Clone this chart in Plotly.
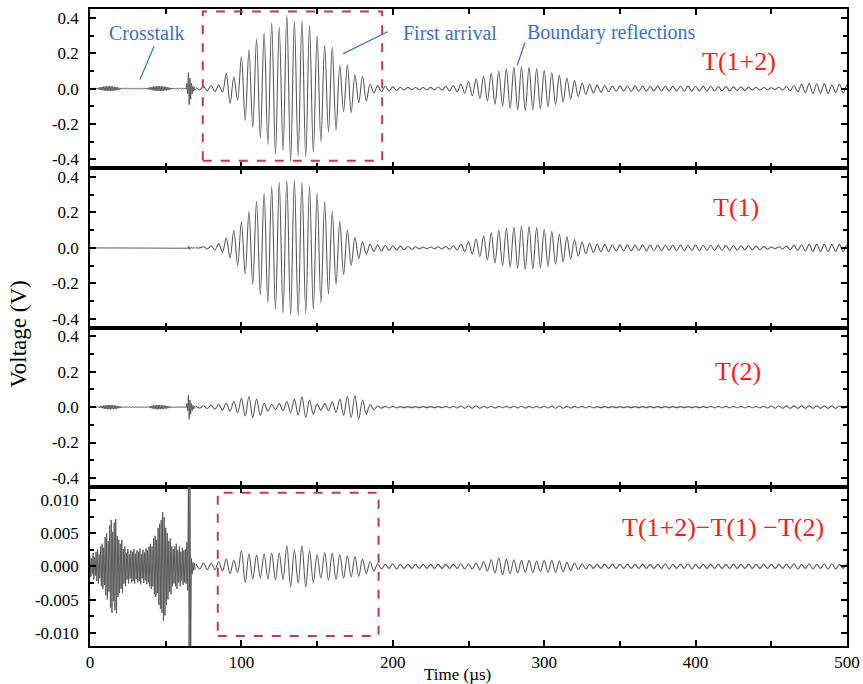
import plotly.graph_objects as go
from plotly.subplots import make_subplots

# ---------------------------------------------------------------------------
# Signal data (volts). The received tone bursts are described by the
# magnitude of each cycle's crest/trough; cycle crests fall every 5 µs
# (200 kHz carrier), troughs half a period later.
# ---------------------------------------------------------------------------
cycle_times = list(range(70, 501, 5))          # µs, crest time of each cycle

t12_cycles = [
    0.006, 0.012, 0.018, 0.020, 0.085, 0.066, 0.180, 0.220, 0.280, 0.315,
    0.370, 0.350, 0.415, 0.380, 0.385, 0.360, 0.300, 0.245, 0.235, 0.130,
    0.135, 0.080, 0.070, 0.025, 0.018, 0.013, 0.010, 0.008, 0.007, 0.006,
    0.006, 0.007, 0.009, 0.012, 0.018, 0.026, 0.040, 0.055, 0.070, 0.088,
    0.100, 0.112, 0.120, 0.124, 0.120, 0.112, 0.102, 0.090, 0.075, 0.060,
    0.045, 0.032, 0.025, 0.020, 0.018, 0.015, 0.014, 0.015, 0.014, 0.014,
    0.013, 0.014, 0.013, 0.014, 0.015, 0.014, 0.013, 0.014, 0.013, 0.012,
    0.012, 0.010, 0.011, 0.009, 0.008, 0.006, 0.005, 0.008, 0.012, 0.018,
    0.024, 0.028, 0.026, 0.028, 0.022, 0.025, 0.020,
]

t1_cycles = [
    0.000, 0.006, 0.012, 0.024, 0.056, 0.100, 0.146, 0.206, 0.265, 0.310,
    0.346, 0.370, 0.381, 0.383, 0.370, 0.350, 0.310, 0.262, 0.206, 0.150,
    0.100, 0.060, 0.034, 0.020, 0.018, 0.015, 0.012, 0.010, 0.008, 0.006,
    0.005, 0.005, 0.006, 0.008, 0.012, 0.020, 0.034, 0.050, 0.068, 0.085,
    0.100, 0.110, 0.116, 0.121, 0.120, 0.113, 0.104, 0.092, 0.078, 0.062,
    0.047, 0.033, 0.026, 0.022, 0.020, 0.018, 0.017, 0.017, 0.016, 0.017,
    0.016, 0.016, 0.015, 0.016, 0.016, 0.015, 0.016, 0.015, 0.015, 0.014,
    0.014, 0.013, 0.012, 0.012, 0.010, 0.007, 0.005, 0.006, 0.010, 0.014,
    0.018, 0.020, 0.021, 0.021, 0.020, 0.020, 0.016,
]

t2_cycles = [
    0.005, 0.008, 0.012, 0.016, 0.022, 0.032, 0.050, 0.060, 0.045, 0.022,
    0.015, 0.020, 0.032, 0.045, 0.058, 0.040, 0.018, 0.020, 0.030, 0.045,
    0.060, 0.066, 0.040, 0.015, 0.006, 0.004, 0.004, 0.003, 0.003, 0.003,
    0.003, 0.003, 0.003, 0.004, 0.005, 0.006, 0.006, 0.006, 0.005, 0.005,
    0.004, 0.004, 0.005, 0.005, 0.004, 0.004, 0.005, 0.006, 0.006, 0.005,
    0.004, 0.004, 0.004, 0.003, 0.003, 0.003, 0.003, 0.003, 0.003, 0.003,
    0.003, 0.003, 0.003, 0.003, 0.003, 0.003, 0.003, 0.003, 0.004, 0.004,
    0.004, 0.004, 0.004, 0.004, 0.004, 0.005, 0.006, 0.006, 0.007, 0.007,
    0.007, 0.007, 0.007, 0.007, 0.007, 0.006, 0.006,
]

diff_cycles = [
    0.0004, 0.0005, 0.0005, 0.0007, 0.0011, 0.0009, 0.0024, 0.0019, 0.0017, 0.0019,
    0.0020, 0.0020, 0.0031, 0.0025, 0.0031, 0.0024, 0.0018, 0.0021, 0.0020, 0.0018,
    0.0016, 0.0015, 0.0011, 0.0007, 0.0004, 0.0003, 0.0004, 0.0003, 0.0003, 0.0003,
    0.0003, 0.0003, 0.0003, 0.0003, 0.0003, 0.0004, 0.0004, 0.0005, 0.0007, 0.0010,
    0.0013, 0.0011, 0.0010, 0.0009, 0.0009, 0.0008, 0.0009, 0.0009, 0.0008, 0.0006,
    0.0005, 0.0004, 0.0003, 0.0003, 0.0003, 0.0003, 0.0003, 0.0003, 0.0003, 0.0003,
    0.0003, 0.0003, 0.0004, 0.0003, 0.0003, 0.0004, 0.0003, 0.0003, 0.0003, 0.0003,
    0.0003, 0.0003, 0.0003, 0.0003, 0.0003, 0.0003, 0.0003, 0.0003, 0.0003, 0.0004,
    0.0003, 0.0004, 0.0003, 0.0004, 0.0004, 0.0003, 0.0004,
]

# Crosstalk section (0–69 µs): peak excursion within each microsecond
xt_times = list(range(0, 70))

t12_xt = [
    0.002, 0.002, 0.002, 0.002, 0.003, 0.004, 0.006, 0.008, 0.010, 0.011,
    0.012, 0.013, 0.013, 0.014, 0.013, 0.012, 0.011, 0.009, 0.007, 0.005,
    0.003, 0.002, 0.002, 0.002, 0.002, 0.002, 0.002, 0.002, 0.002, 0.002,
    0.002, 0.002, 0.002, 0.002, 0.002, 0.002, 0.002, 0.003, 0.004, 0.006,
    0.008, 0.010, 0.011, 0.012, 0.013, 0.013, 0.014, 0.013, 0.012, 0.011,
    0.010, 0.008, 0.006, 0.004, 0.003, 0.002, 0.002, 0.002, 0.002, 0.002,
    0.002, 0.002, 0.002, 0.004, 0.030, 0.090, 0.060, 0.030, 0.015, 0.008,
]

t1_xt = [0.0] * 64 + [0.002, 0.008, 0.004, 0.002, 0.0, 0.0]

t2_xt = [
    0.001, 0.001, 0.001, 0.001, 0.001, 0.002, 0.003, 0.005, 0.007, 0.009,
    0.010, 0.011, 0.012, 0.012, 0.011, 0.011, 0.010, 0.009, 0.007, 0.005,
    0.004, 0.002, 0.001, 0.001, 0.001, 0.001, 0.001, 0.001, 0.001, 0.001,
    0.001, 0.001, 0.001, 0.001, 0.001, 0.001, 0.001, 0.001, 0.002, 0.004,
    0.006, 0.008, 0.010, 0.011, 0.012, 0.012, 0.011, 0.011, 0.010, 0.009,
    0.008, 0.006, 0.005, 0.003, 0.002, 0.001, 0.001, 0.001, 0.001, 0.001,
    0.001, 0.001, 0.001, 0.003, 0.020, 0.068, 0.040, 0.020, 0.010, 0.006,
]

diff_xt = [
    0.0016, 0.0012, 0.0020, 0.0014, 0.0022, 0.0026, 0.0018, 0.0030, 0.0034, 0.0028,
    0.0044, 0.0050, 0.0038, 0.0062, 0.0070, 0.0052, 0.0066, 0.0071, 0.0046, 0.0040,
    0.0034, 0.0040, 0.0026, 0.0030, 0.0020, 0.0026, 0.0018, 0.0024, 0.0022, 0.0026,
    0.0019, 0.0024, 0.0022, 0.0027, 0.0018, 0.0025, 0.0021, 0.0027, 0.0024, 0.0030,
    0.0034, 0.0030, 0.0042, 0.0046, 0.0040, 0.0058, 0.0064, 0.0070, 0.0082, 0.0074,
    0.0058, 0.0050, 0.0038, 0.0042, 0.0030, 0.0026, 0.0030, 0.0034, 0.0024, 0.0030,
    0.0022, 0.0028, 0.0024, 0.0026, 0.0036, 0.0135, 0.0135, 0.0012, 0.0006, 0.0005,
]

panel_labels = ["T(1+2)", "T(1)", "T(2)", "T(1+2)\u2212T(1) \u2212T(2)"]

# ---------------------------------------------------------------------------
FONT = "Liberation Serif, Times New Roman, serif"
LINE = "#5a5a5a"
RED = "#ff1a1a"
BLUE = "#3a6fc6"
BOX = "#c23a4c"


def alternate(times, mags, half):
    """Crest at t, trough at t + half for every listed magnitude."""
    xs, ys = [], []
    for t, a in zip(times, mags):
        xs += [t, t + half]
        ys += [a, -a]
    return xs, ys


fig = make_subplots(rows=4, cols=1, shared_xaxes=True, vertical_spacing=0)

series = [(t12_xt, t12_cycles), (t1_xt, t1_cycles), (t2_xt, t2_cycles), (diff_xt, diff_cycles)]
for row, (xt, cyc) in enumerate(series, start=1):
    x0, y0 = alternate(xt_times, xt, 0.5)
    fig.add_trace(go.Scatter(x=x0, y=y0, mode="lines",
                             line=dict(color=LINE, width=1.0), showlegend=False,
                             hoverinfo="skip"), row=row, col=1)
    x1, y1 = alternate(cycle_times, cyc, 2.5)
    fig.add_trace(go.Scatter(x=x1, y=y1, mode="lines",
                             line=dict(color=LINE, width=1.1, shape="spline", smoothing=1),
                             showlegend=False, hoverinfo="skip"), row=row, col=1)

axis_common = dict(showline=True, linewidth=1.6, linecolor="black", mirror="ticks",
                   ticks="inside", ticklen=6, tickwidth=1.5, tickcolor="black",
                   showgrid=False, zeroline=False, automargin=False,
                   tickfont=dict(family=FONT, size=17, color="black"))

for row in range(1, 5):
    fig.update_xaxes(range=[0, 500], tickvals=[0, 100, 200, 300, 400, 500],
                     ticktext=["0", "100", "200", "300", "400", "500"],
                     minor=dict(tickvals=[50, 150, 250, 350, 450], ticks="inside",
                                ticklen=5, tickwidth=1.5, tickcolor="black"),
                     showticklabels=(row == 4), **axis_common, row=row, col=1)
    if row < 4:
        fig.update_yaxes(range=[-0.45, 0.45],
                         tickvals=[-0.4, -0.2, 0.0, 0.2, 0.4],
                         ticktext=["-0.4", "-0.2", "0.0", "0.2", "0.4"],
                         minor=dict(tickvals=[-0.3, -0.1, 0.1, 0.3], ticks="inside",
                                    ticklen=4, tickwidth=1.5, tickcolor="black"),
                         ticklabelstandoff=6, **axis_common, row=row, col=1)
    else:
        fig.update_yaxes(range=[-0.012, 0.012],
                         tickvals=[-0.01, -0.005, 0.0, 0.005, 0.01],
                         ticktext=["-0.010", "-0.005", "0.000", "0.005", "0.010"],
                         minor=dict(tickvals=[-0.0075, -0.0025, 0.0025, 0.0075], ticks="inside",
                                    ticklen=4, tickwidth=1.5, tickcolor="black"),
                         ticklabelstandoff=6, **axis_common, row=row, col=1)

annotations = []
# panel labels
label_pos = [(428.7, 0.153, "x", "y"), (426.4, 0.226, "x2", "y2"),
             (427.8, 0.200, "x3", "y3"), (418.1, 0.0058, "x4", "y4")]
for text, (lx, ly, xr, yr) in zip(panel_labels, label_pos):
    annotations.append(dict(x=lx, y=ly, xref=xr, yref=yr, text=text, showarrow=False,
                            font=dict(family=FONT, size=26, color=RED),
                            xanchor="center", yanchor="middle"))

# wave-group callouts in the top panel
for text, cx in [("Crosstalk", 37.6), ("First arrival", 237.8), ("Boundary reflections", 344.0)]:
    annotations.append(dict(x=cx, y=0.317, xref="x", yref="y", text=text, showarrow=False,
                            font=dict(family=FONT, size=20, color=BLUE),
                            xanchor="center", yanchor="middle"))

annotations.append(dict(x=-0.0938, y=0.49, xref="paper", yref="paper", text="Voltage (V)",
                        textangle=-90, showarrow=False,
                        font=dict(family=FONT, size=23, color="black"),
                        xanchor="center", yanchor="middle"))
annotations.append(dict(x=0.486, y=-0.0455, xref="paper", yref="paper", text="Time (\u00b5s)",
                        showarrow=False, font=dict(family=FONT, size=17, color="black"),
                        xanchor="center", yanchor="middle"))

shapes = [
    dict(type="line", xref="x", yref="y", x0=42.3, y0=0.24, x1=33.0, y1=0.051,
         line=dict(color=BLUE, width=1.2)),
    dict(type="line", xref="x", yref="y", x0=196.6, y0=0.321, x1=167.3, y1=0.198,
         line=dict(color=BLUE, width=1.2)),
    dict(type="line", xref="x", yref="y", x0=287.3, y0=0.262, x1=282.2, y1=0.132,
         line=dict(color=BLUE, width=1.2)),
    dict(type="rect", xref="x", yref="y", x0=74.5, x1=193.0, y0=-0.408, y1=0.436,
         line=dict(color=BOX, width=2, dash="dash")),
    dict(type="rect", xref="x4", yref="y4", x0=84.4, x1=190.6, y0=-0.0105, y1=0.0111,
         line=dict(color=BOX, width=2, dash="dash")),
]

fig.update_layout(width=863, height=684,
                  margin=dict(l=90, r=16, t=9, b=38),
                  paper_bgcolor="white", plot_bgcolor="white",
                  annotations=annotations, shapes=shapes,
                  font=dict(family=FONT, color="black"))

fig.write_html("out.html")
